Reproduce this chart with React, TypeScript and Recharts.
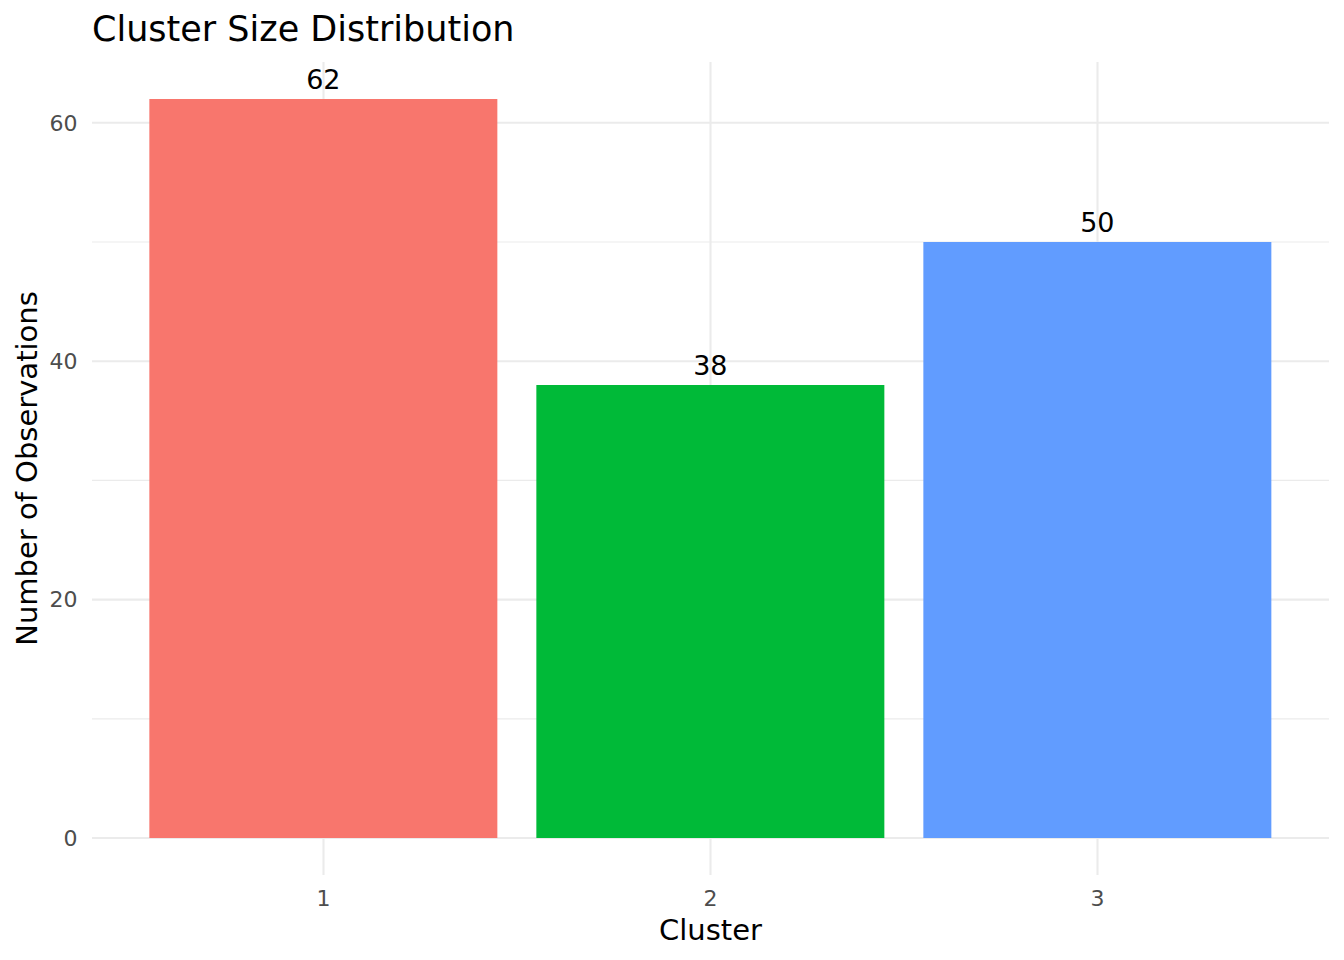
import { BarChart, Bar, XAxis, YAxis, CartesianGrid, Cell, LabelList } from "recharts";

const clusters = ["1", "2", "3"];
const counts = [62, 38, 50];
const barColors = ["#F8766D", "#00BA38", "#619CFF"];
const yTicks = [0, 20, 40, 60];
const yMinor = [10, 30, 50];

const FONT = "DejaVu Sans";
const GRID = "#EBEBEB";

const data = clusters.map((cluster, i) => ({ cluster, count: counts[i] }));

type VB = { viewBox?: { x: number; y: number; width: number; height: number } };

const XTitle = ({ viewBox }: VB) => {
  if (!viewBox) return null;
  return (
    <text
      x={viewBox.x + viewBox.width / 2}
      y={viewBox.y + 65}
      textAnchor="middle"
      fontSize={29}
      fontFamily={FONT}
      fill="#000"
    >
      Cluster
    </text>
  );
};

const YTitle = ({ viewBox }: VB) => {
  if (!viewBox) return null;
  const cx = 36.5;
  const cy = viewBox.y + viewBox.height / 2;
  return (
    <text
      x={cx}
      y={cy}
      transform={`rotate(-90, ${cx}, ${cy})`}
      textAnchor="middle"
      fontSize={29}
      fontFamily={FONT}
      fill="#000"
    >
      Number of Observations
    </text>
  );
};

export default function App() {
  return (
    <div style={{ position: "absolute", left: 0, top: 0, width: 1344, height: 960, background: "#fff" }}>
      <BarChart
        width={1344}
        height={960}
        data={data}
        margin={{ top: 62, right: 15, bottom: 0, left: 0 }}
        barCategoryGap="5%"
      >
        {/* minor grid lines, thinner */}
        <CartesianGrid
          stroke={GRID}
          strokeWidth={1.1}
          vertical={false}
          horizontalValues={yMinor}
          syncWithTicks
        />
        <CartesianGrid stroke={GRID} strokeWidth={2.1} syncWithTicks />
        <XAxis
          dataKey="cluster"
          height={85}
          padding={{ left: 38, right: 38 }}
          axisLine={false}
          tickLine={false}
          tickSize={0}
          tickMargin={15}
          tick={{ fontSize: 22, fontFamily: FONT, fill: "#4D4D4D" }}
          label={<XTitle />}
        />
        <YAxis
          type="number"
          width={92}
          domain={[-3.1, 65.1]}
          ticks={yTicks}
          allowDataOverflow
          axisLine={false}
          tickLine={false}
          tickSize={0}
          tickMargin={14.5}
          tick={{ fontSize: 22, fontFamily: FONT, fill: "#4D4D4D" }}
          label={<YTitle />}
        />
        <Bar dataKey="count" isAnimationActive={false}>
          {data.map((d, i) => (
            <Cell key={d.cluster} fill={barColors[i]} />
          ))}
          <LabelList
            dataKey="count"
            position="top"
            offset={10}
            fontSize={27}
            fontFamily={FONT}
            fill="#000"
          />
        </Bar>
      </BarChart>
      <svg
        width={1344}
        height={960}
        style={{ position: "absolute", left: 0, top: 0, pointerEvents: "none" }}
      >
        <text x={92} y={41} fontSize={35} fontFamily={FONT} fill="#000">
          Cluster Size Distribution
        </text>
      </svg>
    </div>
  );
}
